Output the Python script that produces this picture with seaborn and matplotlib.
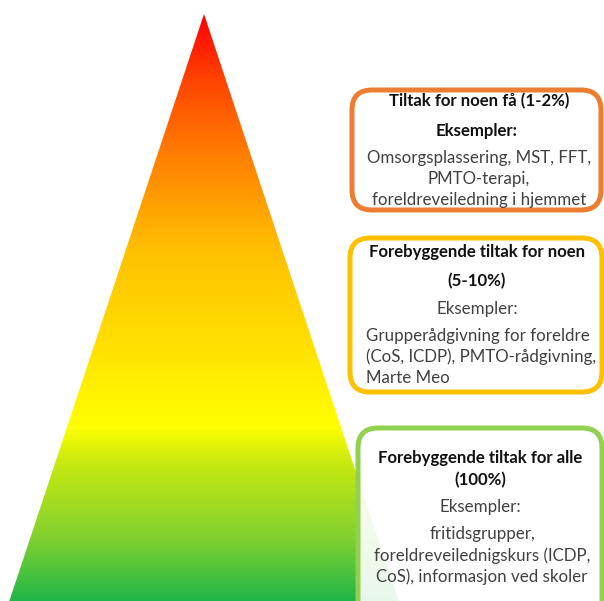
'''
Pyramid of preventive measures with three example boxes
'''
import numpy as np
import matplotlib
matplotlib.use('Agg')
import matplotlib.pyplot as plt
from matplotlib.colors import LinearSegmentedColormap
from matplotlib.patches import Polygon, FancyBboxPatch
import seaborn as sns

# Gradient colours of the pyramid, top (0) to bottom (1)
gradient_stops = [0.0, 0.11, 0.24, 0.40, 0.56, 0.70, 0.76, 0.89, 1.0]
gradient_colors = ['#ff0000', '#ff4400', '#ff8000', '#ffc000', '#ffe000', '#ffff00', '#c8ea10', '#80d030', '#1db54a']

# Box contents, top to bottom
box_titles = ['Tiltak for noen få (1-2%)',
              'Forebyggende tiltak for noen\n(5-10%)',
              'Forebyggende tiltak for alle\n(100%)']
box_examples = [['Omsorgsplassering, MST, FFT,', 'PMTO-terapi,', 'foreldreveiledning i hjemmet'],
                ['Grupperådgivning for foreldre', '(CoS, ICDP), PMTO-rådgivning,', 'Marte Meo'],
                ['fritidsgrupper,', 'foreldreveilednigskurs (ICDP,', 'CoS), informasjon ved skoler']]
box_colors = ['#ed7d31', '#ffc000', '#92d050']

sns.set_style('white')
plt.rcParams['font.family'] = ['Lato', 'DejaVu Sans']

fig = plt.figure(figsize=(6.04, 6.01), dpi=100)
ax = fig.add_axes([0, 0, 1, 1])
ax.set_xlim(0, 604)
ax.set_ylim(601, 0)
ax.axis('off')

# Pyramid with vertical gradient
cmap = LinearSegmentedColormap.from_list('pyr', list(zip(gradient_stops, gradient_colors)))
tri = Polygon([(204, 14), (8, 605), (400, 605)], closed=True, fc='none', ec='none')
ax.add_patch(tri)
grad = np.linspace(0, 1, 600).reshape(-1, 1)
img = ax.imshow(grad, cmap=cmap, aspect='auto', extent=(0, 604, 605, 14))
img.set_clip_path(tri)

# Boxes (x0, y0, x1, y1) in pixel coordinates
boxes = [(352, 90, 601, 210), (350, 238, 602, 392), (358, 428, 602, 640)]
for (x0, y0, x1, y1), col in zip(boxes, box_colors):
    ax.add_patch(FancyBboxPatch((x0, y0), x1 - x0, y1 - y0,
                                boxstyle='round,pad=0,rounding_size=20',
                                fc='white', alpha=0.9, ec='none', zorder=3))
    ax.add_patch(FancyBboxPatch((x0, y0), x1 - x0, y1 - y0,
                                boxstyle='round,pad=0,rounding_size=20',
                                fc='none', ec=col, lw=3.6, zorder=4))

txt = dict(fontsize=12.1, color='#111111', zorder=5, va='center', fontweight='bold')
reg = dict(fontsize=12.2, color='#404040', zorder=5, va='center')

# Box 1
ax.text(479, 101, box_titles[0], ha='center', **txt)
ax.text(477, 131, 'Eksempler:', ha='center', **txt)
for i, line in enumerate(box_examples[0]):
    ax.text(479, 158 + i * 21, line, ha='center', **reg)

# Box 2
t2 = box_titles[1].split('\n')
ax.text(477, 252, t2[0], ha='center', **txt)
ax.text(477, 281, t2[1], ha='center', **txt)
ax.text(477, 309, 'Eksempler:', ha='center', **reg)
for i, line in enumerate(box_examples[1]):
    ax.text(366, 336 + i * 21, line, ha='left', **reg)

# Box 3
t3 = box_titles[2].split('\n')
ax.text(480, 458, t3[0], ha='center', **txt)
ax.text(480, 480, t3[1], ha='center', **txt)
ax.text(480, 507, 'Eksempler:', ha='center', **reg)
for i, line in enumerate(box_examples[2]):
    ax.text(482, 534 + i * 21.5, line, ha='center', **reg)

fig.savefig('out.png', dpi=100)
